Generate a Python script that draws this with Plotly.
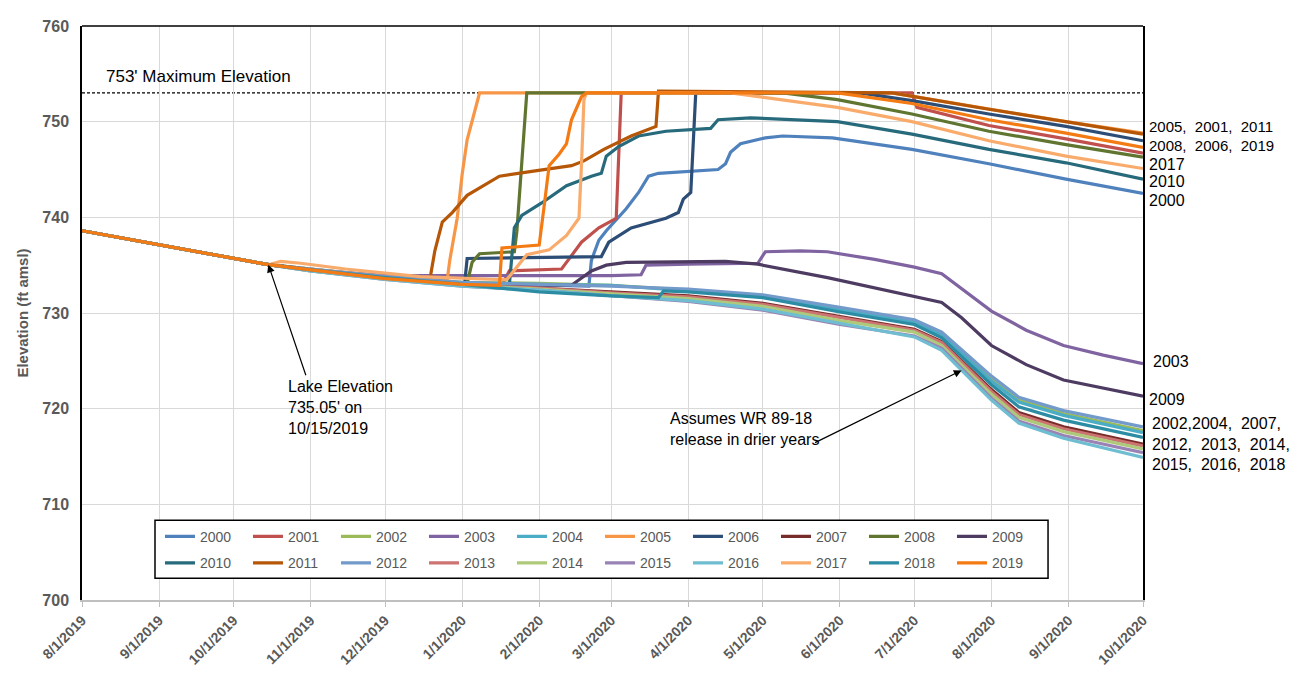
import plotly.graph_objects as go

# ---------------- DATA ----------------
HIST_DATES = ["2019-08-01", "2019-08-16", "2019-09-01", "2019-09-16", "2019-10-01", "2019-10-15"]
HIST_VALS = [738.6, 737.9, 737.15, 736.45, 735.7, 735.05]

YEARS = [str(y) for y in range(2000, 2020)]

BUNDLE_DATES = ["2019-11-01", "2019-12-01", "2020-01-01", "2020-02-01", "2020-03-01", "2020-04-01",
                "2020-05-01", "2020-06-01", "2020-07-01", "2020-07-12", "2020-08-01", "2020-08-12",
                "2020-08-30", "2020-10-01"]

D2000 = ["2019-11-01", "2019-12-01", "2020-01-01", "2020-02-01", "2020-02-21", "2020-02-22", "2020-02-25",
         "2020-02-28", "2020-03-03", "2020-03-07", "2020-03-12", "2020-03-16", "2020-03-20", "2020-04-13",
         "2020-04-16", "2020-04-18", "2020-04-22", "2020-05-02", "2020-05-09", "2020-05-29", "2020-06-30",
         "2020-07-31", "2020-08-31", "2020-10-01"]
V2000 = [734.5, 733.7, 733.1, 732.9, 732.8, 735.5, 737.6, 738.6, 739.7, 740.9, 742.6, 744.3, 744.6, 745.0,
         745.6, 746.8, 747.7, 748.3, 748.5, 748.3, 747.1, 745.6, 744.0, 742.5]

D2001 = ["2019-11-01", "2019-12-01", "2020-01-01", "2020-01-17", "2020-01-20", "2020-02-10", "2020-02-14",
         "2020-02-18", "2020-02-25", "2020-03-03", "2020-03-05", "2020-06-30", "2020-07-02", "2020-07-31",
         "2020-08-31", "2020-10-01"]
V2001 = [734.5, 733.7, 733.1, 732.9, 734.4, 734.6, 736.0, 737.4, 738.9, 739.9, 753.0, 753.0, 751.5, 749.6,
         748.2, 746.7]

V2002 = [734.6, 733.8, 733.2, 733.1, 732.9, 732.4, 731.8, 730.4, 729.1, 727.8, 723.1, 720.9, 719.5, 717.7]

D2003 = ["2019-11-01", "2019-12-01", "2020-01-01", "2020-02-01", "2020-03-01", "2020-03-13", "2020-03-15",
         "2020-04-01", "2020-04-29", "2020-05-02", "2020-05-16", "2020-05-27", "2020-06-15", "2020-07-01",
         "2020-07-12", "2020-08-01", "2020-08-15", "2020-08-30", "2020-09-15", "2020-10-01"]
V2003 = [734.5, 733.9, 733.9, 733.9, 733.9, 734.0, 735.0, 735.1, 735.2, 736.4, 736.5, 736.4, 735.6, 734.8,
         734.1, 730.2, 728.2, 726.6, 725.6, 724.7]

V2004 = [734.6, 733.7, 733.1, 733.0, 732.9, 732.3, 731.7, 730.3, 729.0, 727.7, 722.9, 720.7, 719.3, 717.5]

D2005 = ["2019-11-01", "2019-12-01", "2019-12-26", "2019-12-27", "2019-12-30", "2020-01-01", "2020-01-03",
         "2020-01-06", "2020-01-08", "2020-06-22", "2020-07-31", "2020-08-31", "2020-10-01"]
V2005 = [734.6, 733.8, 733.5, 735.5, 739.9, 744.5, 748.1, 751.0, 753.0, 753.0, 751.3, 750.0, 748.8]

D2006 = ["2019-11-01", "2019-12-01", "2020-01-02", "2020-01-03", "2020-02-26", "2020-02-29", "2020-03-09",
         "2020-03-23", "2020-03-28", "2020-03-30", "2020-04-02", "2020-04-04", "2020-06-09", "2020-06-30",
         "2020-07-31", "2020-08-31", "2020-10-01"]
V2006 = [734.5, 733.7, 733.1, 735.7, 735.9, 737.4, 738.9, 739.9, 740.5, 741.9, 742.6, 753.0, 753.0, 752.2,
         750.8, 749.5, 748.0]

V2007 = [734.5, 733.6, 733.0, 732.6, 732.2, 731.8, 731.0, 729.6, 728.3, 727.0, 722.0, 719.6, 718.1, 716.3]

D2008 = ["2019-11-01", "2019-12-01", "2020-01-03", "2020-01-05", "2020-01-08", "2020-01-22", "2020-01-23",
         "2020-01-25", "2020-01-27", "2020-05-09", "2020-05-31", "2020-06-30", "2020-07-31", "2020-08-31",
         "2020-10-01"]
V2008 = [734.5, 733.7, 733.1, 735.3, 736.2, 736.4, 738.5, 745.4, 753.0, 753.0, 752.3, 750.8, 749.0, 747.6,
         746.3]

D2009 = ["2019-11-01", "2019-12-01", "2020-01-01", "2020-02-01", "2020-02-14", "2020-02-16", "2020-02-22",
         "2020-02-28", "2020-03-07", "2020-04-16", "2020-04-29", "2020-05-27", "2020-06-22", "2020-07-12",
         "2020-07-20", "2020-08-01", "2020-08-15", "2020-08-30", "2020-10-01"]
V2009 = [734.5, 733.7, 733.1, 732.9, 732.9, 733.3, 734.4, 735.0, 735.3, 735.4, 735.1, 733.7, 732.2, 731.1,
         729.5, 726.6, 724.6, 723.0, 721.3]

D2010 = ["2019-11-01", "2019-12-01", "2020-01-01", "2020-01-20", "2020-01-22", "2020-01-25", "2020-02-02",
         "2020-02-12", "2020-02-22", "2020-02-26", "2020-02-28", "2020-03-04", "2020-03-12", "2020-03-23",
         "2020-04-10", "2020-04-13", "2020-04-26", "2020-05-16", "2020-05-31", "2020-06-30", "2020-07-31",
         "2020-08-31", "2020-10-01"]
V2010 = [734.5, 733.7, 733.1, 733.0, 738.9, 740.2, 741.5, 743.3, 744.3, 744.6, 746.4, 747.4, 748.5, 749.0,
         749.3, 750.2, 750.4, 750.2, 750.0, 748.7, 747.1, 745.7, 744.0]

D2011 = ["2019-11-01", "2019-12-01", "2019-12-19", "2019-12-21", "2019-12-24", "2019-12-28", "2020-01-03",
         "2020-01-16", "2020-01-29", "2020-02-14", "2020-02-19", "2020-02-27", "2020-03-09", "2020-03-19",
         "2020-03-20", "2020-06-22", "2020-07-31", "2020-08-31", "2020-10-01"]
V2011 = [734.5, 733.7, 733.5, 736.5, 739.5, 740.5, 742.3, 744.3, 744.8, 745.4, 745.9, 747.1, 748.5, 749.5,
         753.2, 753.0, 751.3, 750.0, 748.7]

V2012 = [734.6, 733.8, 733.2, 733.0, 732.8, 732.5, 731.9, 730.6, 729.3, 728.0, 723.4, 721.2, 719.8, 718.1]
V2013 = [734.5, 733.6, 732.9, 732.6, 732.1, 731.7, 730.9, 729.5, 728.2, 726.9, 721.8, 719.4, 717.9, 716.1]
V2014 = [734.4, 733.6, 732.9, 732.5, 732.0, 731.5, 730.7, 729.2, 728.0, 726.6, 721.5, 719.1, 717.6, 715.8]
V2015 = [734.4, 733.5, 732.8, 732.4, 731.8, 731.2, 730.3, 728.8, 727.6, 726.3, 721.1, 718.7, 717.2, 715.4]
V2016 = [734.4, 733.5, 732.8, 732.4, 731.8, 731.3, 730.4, 728.9, 727.5, 726.1, 720.9, 718.5, 716.9, 714.9]

D2017 = ["2019-10-20", "2019-10-28", "2019-11-15", "2019-12-15", "2020-01-15", "2020-01-19", "2020-01-27",
         "2020-02-05", "2020-02-12", "2020-02-17", "2020-02-18", "2020-02-19", "2020-02-20", "2020-04-18",
         "2020-05-31", "2020-06-30", "2020-07-31", "2020-08-31", "2020-10-01"]
V2017 = [735.4, 735.2, 734.6, 733.8, 733.5, 733.5, 736.1, 736.6, 738.1, 739.9, 745.4, 752.3, 753.0, 753.0,
         751.5, 750.0, 748.0, 746.4, 745.1]

D2018 = ["2019-11-01", "2019-12-01", "2020-01-01", "2020-02-01", "2020-03-01", "2020-03-20", "2020-03-22",
         "2020-04-01", "2020-05-01", "2020-06-01", "2020-07-01", "2020-07-12", "2020-08-01", "2020-08-12",
         "2020-08-30", "2020-10-01"]
V2018 = [734.5, 733.7, 733.0, 732.2, 731.8, 731.6, 732.3, 732.2, 731.6, 730.1, 728.8, 727.4, 722.5, 720.2,
         718.8, 717.0]

D2019 = ["2019-11-01", "2019-12-01", "2020-01-01", "2020-01-16", "2020-01-17", "2020-02-01", "2020-02-03",
         "2020-02-05", "2020-02-09", "2020-02-12", "2020-02-14", "2020-02-18", "2020-02-20", "2020-05-31",
         "2020-06-30", "2020-07-31", "2020-08-31", "2020-10-01"]
V2019 = [734.5, 733.6, 733.0, 732.9, 736.8, 737.1, 741.2, 745.4, 746.6, 747.7, 750.2, 752.6, 753.0, 753.0,
         751.9, 750.2, 748.8, 747.3]

COLORS = ["#4F81BD", "#C0504D", "#9BBB59", "#8064A2", "#4BACC6", "#F79646", "#2C4D75", "#772C2A",
          "#5F7530", "#4D3B62", "#276A7C", "#B65708", "#729ACA", "#CD7371", "#AFC97A", "#9983B5",
          "#6FBDD1", "#F9AB6B", "#2C8CA3", "#F47B13"]

MAX_ELEV = 753
LAKE_DATE = "2019-10-15"
LAKE_ELEV = 735.05
X_TICKS = ["2019-08-01", "2019-09-01", "2019-10-01", "2019-11-01", "2019-12-01", "2020-01-01",
           "2020-02-01", "2020-03-01", "2020-04-01", "2020-05-01", "2020-06-01", "2020-07-01",
           "2020-08-01", "2020-09-01", "2020-10-01"]

SERIES = [
    (D2000, V2000), (D2001, V2001), (BUNDLE_DATES, V2002), (D2003, V2003), (BUNDLE_DATES, V2004),
    (D2005, V2005), (D2006, V2006), (BUNDLE_DATES, V2007), (D2008, V2008), (D2009, V2009),
    (D2010, V2010), (D2011, V2011), (BUNDLE_DATES, V2012), (BUNDLE_DATES, V2013), (BUNDLE_DATES, V2014),
    (BUNDLE_DATES, V2015), (BUNDLE_DATES, V2016), (D2017, V2017), (D2018, V2018), (D2019, V2019),
]

# ---------------- FIGURE ----------------
FONT = "Liberation Sans, Arial, sans-serif"
GRAY = "#595959"

fig = go.Figure()
for i, (year, (d, v), col) in enumerate(zip(YEARS, SERIES, COLORS)):
    fig.add_trace(go.Scatter(
        x=HIST_DATES + d, y=HIST_VALS + v, mode="lines", name=year,
        line=dict(color=col, width=3.2),
        legend="legend" if i < 10 else "legend2",
    ))

leg_common = dict(orientation="h", xanchor="left", yanchor="middle", entrywidth=43,
                  entrywidthmode="pixels", bgcolor="rgba(0,0,0,0)", traceorder="normal",
                  itemwidth=30, font=dict(family=FONT, size=14, color=GRAY), tracegroupgap=0)

fig.update_layout(
    width=1300, height=675,
    margin=dict(l=74, r=165, t=10, b=83),
    plot_bgcolor="white", paper_bgcolor="white",
    showlegend=True,
    legend=dict(x=0.0735, y=0.110, **leg_common),
    legend2=dict(x=0.0735, y=0.064, **leg_common),
    xaxis=dict(
        type="date", range=[X_TICKS[0], X_TICKS[-1]], tickvals=X_TICKS, tickformat="%-m/%-d/%Y",
        tickangle=-45, tickfont=dict(family=FONT, size=14, color=GRAY, weight="bold"),
        showgrid=True, gridcolor="#D9D9D9", gridwidth=1,
        showline=True, linecolor="#BFBFBF", linewidth=1.5,
        ticks="outside", tickcolor="#BFBFBF", ticklen=5,
    ),
    yaxis=dict(
        range=[700, 760], dtick=10, tick0=700,
        tickfont=dict(family=FONT, size=16, color=GRAY, weight="bold"),
        ticklabelstandoff=8,
        showgrid=True, gridcolor="#D9D9D9", gridwidth=1,
        showline=True, linecolor="black", linewidth=1.5, mirror=True,
        ticks="", zeroline=False,
        title=dict(text="Elevation (ft amsl)", font=dict(family=FONT, size=15, color=GRAY, weight="bold"),
                   standoff=10),
    ),
    shapes=[
        dict(type="line", xref="paper", x0=0, x1=1, yref="y", y0=MAX_ELEV, y1=MAX_ELEV,
             line=dict(color="black", width=1.2, dash="3px,2px"), layer="below"),
        dict(type="line", xref="paper", x0=0, x1=1, yref="paper", y0=1, y1=1,
             line=dict(color="black", width=1.5), layer="above"),
        dict(type="rect", xref="paper", yref="paper", x0=0.0688, x1=0.9105, y0=0.0378, y1=0.139,
             fillcolor="white", line=dict(color="black", width=1.5), layer="above"),
    ],
)

ann_font = dict(family=FONT, size=16, color="black")
annotations = [
    dict(x="2019-08-10", y=MAX_ELEV, xref="x", yref="y", text="753' Maximum Elevation", showarrow=False,
         xanchor="left", yanchor="bottom", yshift=5, font=dict(family=FONT, size=17, color="black")),
    dict(x=LAKE_DATE, y=LAKE_ELEV, xref="x", yref="y", text="", showarrow=True, arrowhead=2,
         arrowsize=1.3, arrowwidth=1.2, arrowcolor="black", ax=38, ay=112),
    dict(x="2019-10-22", y=723.4, xref="x", yref="y",
         text="Lake Elevation<br>735.05' on<br>10/15/2019", showarrow=False, align="left",
         xanchor="left", yanchor="top", font=ann_font),
    dict(x="2020-07-20", y=724.0, xref="x", yref="y", text="", showarrow=True, arrowhead=2,
         arrowsize=1.3, arrowwidth=1.2, arrowcolor="black", ax=-148, ay=73),
    dict(x="2020-03-24", y=720.1, xref="x", yref="y",
         text="Assumes WR 89-18<br>release in drier years", showarrow=False, align="left",
         xanchor="left", yanchor="top", font=ann_font),
]

right_labels = [
    ("2005,  2001,  2011", 749.5, 1.004, 15),
    ("2008,  2006,  2019", 747.5, 1.004, 15),
    ("2017", 745.5, 1.004, 16),
    ("2010", 743.7, 1.004, 16),
    ("2000", 741.8, 1.004, 16),
    ("2003", 724.9, 1.008, 16),
    ("2009", 721.0, 1.004, 16),
    ("2002,2004,  2007,", 718.5, 1.007, 16),
    ("2012,  2013,  2014,", 716.3, 1.007, 16),
    ("2015,  2016,  2018", 714.2, 1.007, 16),
]
for txt, yv, xp, fs in right_labels:
    annotations.append(dict(x=xp, y=yv, xref="paper", yref="y", text=txt, showarrow=False,
                            xanchor="left", yanchor="middle", font=dict(family=FONT, size=fs, color="black")))

fig.update_layout(annotations=annotations)
fig.write_html("out.html")
